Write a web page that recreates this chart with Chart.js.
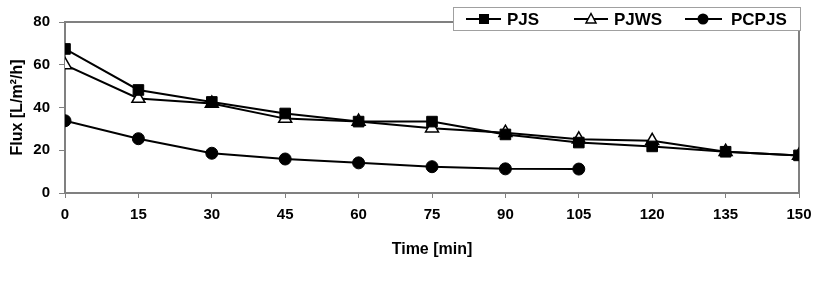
<!DOCTYPE html>
<html>
<head>
<meta charset="utf-8">
<script src="https://cdn.jsdelivr.net/npm/chart.js@4"></script>
<style>
html,body{margin:0;padding:0;background:#fff;}
#wrap{width:822px;height:286px;position:relative;}
</style>
</head>
<body>
<div id="wrap"><canvas id="c" width="822" height="286"></canvas></div>
<script>
const times = [0, 15, 30, 45, 60, 75, 90, 105, 120, 135, 150];
const pjs   = [67.4, 48.2, 42.6, 37.2, 33.4, 33.4, 27.4, 23.6, 21.8, 19.3, 17.6];
const pjws  = [59.9, 44.2, 41.9, 34.8, 33.4, 30.3, 28.2, 25.1, 24.4, 19.3, 17.6];
const pcpjs = [33.8, 25.4, 18.6, 15.9, 14.1, 12.3, 11.3, 11.2];
const seriesNames = ['PJS', 'PJWS', 'PCPJS'];
const xTitle = 'Time [min]';
const yTitle = 'Flux [L/m²/h]';

const FONT = "'Liberation Sans', Arial, sans-serif";
const toPts = (vals) => vals.map((v, i) => ({x: times[i], y: v}));

const frame = {
  id: 'frame',
  beforeDatasetsDraw(chart) {
    const {ctx, chartArea: a} = chart;
    ctx.save();
    ctx.strokeStyle = '#808080';
    ctx.lineWidth = 2;
    ctx.strokeRect(a.left, a.top, a.right - a.left, a.bottom - a.top);
    ctx.restore();
  }
};

const legendBox = {
  id: 'legendBox',
  afterDraw(chart) {
    const ctx = chart.ctx;
    ctx.save();
    ctx.fillStyle = '#fff';
    ctx.fillRect(453, 7, 347, 23);
    ctx.strokeStyle = '#a0a0a0';
    ctx.lineWidth = 1;
    ctx.strokeRect(453.5, 7.5, 347, 23);
    const cy = 19;
    const items = [
      {x1: 466, x2: 501, mx: 484, style: 'rect', text: 'PJS', tx: 507},
      {x1: 574, x2: 608, mx: 591, style: 'triangle', text: 'PJWS', tx: 614},
      {x1: 685, x2: 722, mx: 703, style: 'circle', text: 'PCPJS', tx: 731}
    ];
    items.forEach((it, i) => {
      ctx.strokeStyle = '#000';
      ctx.lineWidth = 2;
      ctx.beginPath();
      ctx.moveTo(it.x1, cy); ctx.lineTo(it.x2, cy); ctx.stroke();
      ctx.lineWidth = 1.5;
      if (it.style === 'rect') {
        ctx.fillStyle = '#000';
        ctx.fillRect(it.mx - 5, cy - 5, 10, 10);
      } else if (it.style === 'triangle') {
        ctx.fillStyle = '#fff';
        ctx.beginPath();
        ctx.moveTo(it.mx, cy - 5.5);
        ctx.lineTo(it.mx + 5, cy + 4);
        ctx.lineTo(it.mx - 5, cy + 4);
        ctx.closePath();
        ctx.fill(); ctx.stroke();
      } else {
        ctx.fillStyle = '#000';
        ctx.beginPath();
        ctx.arc(it.mx, cy, 5.5, 0, Math.PI * 2);
        ctx.fill();
      }
      ctx.fillStyle = '#000';
      ctx.font = "bold 17px " + FONT;
      ctx.textBaseline = 'middle';
      ctx.textAlign = 'left';
      ctx.fillText(seriesNames[i], it.tx, cy + 1);
    });
    ctx.restore();
  }
};

new Chart(document.getElementById('c'), {
  type: 'line',
  data: {
    datasets: [
      {label: seriesNames[0], data: toPts(pjs), borderColor: '#000', borderWidth: 2,
       pointStyle: 'rect', pointRadius: 7.5, pointBackgroundColor: '#000', pointBorderColor: '#000', pointBorderWidth: 1, tension: 0},
      {label: seriesNames[1], data: toPts(pjws), borderColor: '#000', borderWidth: 2,
       pointStyle: 'triangle', pointRadius: 7.5, pointBackgroundColor: '#fff', pointBorderColor: '#000', pointBorderWidth: 1.5, tension: 0},
      {label: seriesNames[2], data: toPts(pcpjs), borderColor: '#000', borderWidth: 2,
       pointStyle: 'circle', pointRadius: 6, pointBackgroundColor: '#000', pointBorderColor: '#000', pointBorderWidth: 1, tension: 0}
    ]
  },
  options: {
    responsive: false,
    animation: false,
    layout: {padding: {left: 0, right: 23, top: 22, bottom: 0}},
    plugins: {legend: {display: false}, tooltip: {enabled: false}},
    scales: {
      x: {
        type: 'linear', min: 0, max: 150,
        afterFit(s) { s.height = 93; },
        ticks: {stepSize: 15, color: '#000', padding: 8, font: {family: FONT, size: 15, weight: 'bold'}, maxRotation: 0},
        grid: {drawOnChartArea: false, drawTicks: true, tickLength: 5, color: '#808080', lineWidth: 1},
        border: {display: false},
        title: {display: true, text: xTitle, color: '#000', font: {family: FONT, size: 16, weight: 'bold'}, padding: {top: 0, bottom: 27}}
      },
      y: {
        min: 0, max: 80,
        afterFit(s) { s.width = 65; },
        ticks: {stepSize: 20, color: '#000', padding: 9, font: {family: FONT, size: 15, weight: 'bold'}},
        grid: {drawOnChartArea: false, drawTicks: true, tickLength: 6, color: '#808080', lineWidth: 1},
        border: {display: false},
        title: {display: true, text: yTitle, color: '#000', font: {family: FONT, size: 16, weight: 'bold'}, padding: {top: 8, bottom: 8}}
      }
    }
  },
  plugins: [frame, legendBox]
});
</script>
</body>
</html>
